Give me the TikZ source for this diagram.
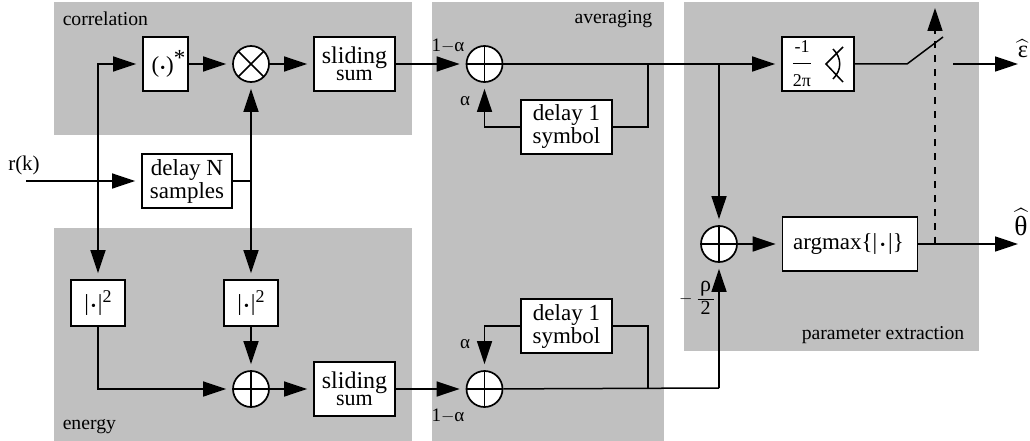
\documentclass[tikz,border=0pt]{standalone}
\usepackage{fontspec}
\setmainfont{Liberation Serif}
\usetikzlibrary{arrows.meta}
\definecolor{panelgray}{RGB}{192,192,192}
\newcommand{\dotsym}{{\fontsize{14}{14}\selectfont\textbullet}}
\newcommand{\absdot}{|\hspace{2pt}\dotsym\hspace{2pt}|\raisebox{8pt}{\fontsize{18}{18}\selectfont 2}}
\newcommand{\wideaccent}[2]{\scalebox{#1}{$\widehat{\mbox{\fontsize{11}{11}\selectfont #2}}$}}
\newcommand{\slidetext}{{\fontsize{24}{15}\selectfont sliding}\\{\fontsize{22}{15}\selectfont sum}}

\begin{document}
\begin{tikzpicture}[
    x=1pt, y=-1pt,
    line width=1.5pt,
    panel/.style={fill=panelgray, draw=none},
    tag/.style={font=\fontsize{19.7}{19.7}\selectfont, inner sep=0pt},
    coef/.style={font=\fontsize{19}{19}\selectfont, inner sep=0pt},
    blockbox/.style={draw, rectangle, fill=white, align=center, inner sep=0pt, line width=1.7pt, font=\fontsize{23}{23}\selectfont},
    sumbox/.style={blockbox, minimum width=81pt, minimum height=54pt, font=\fontsize{23}{15}\selectfont},
    delaybox/.style={blockbox, minimum width=91pt, minimum height=54pt},
    absbox/.style={blockbox, minimum width=54pt, minimum height=46pt},
    addcirc/.style={draw, circle, fill=white, minimum size=36pt, inner sep=0pt, line width=1.7pt,
        path picture={\draw[line width=1.5pt] (path picture bounding box.north) -- (path picture bounding box.south)
            (path picture bounding box.west) -- (path picture bounding box.east);}},
    mulcirc/.style={draw, circle, fill=white, minimum size=36pt, inner sep=0pt, line width=1.7pt,
        path picture={\draw[line width=1.5pt] (path picture bounding box.north west) -- (path picture bounding box.south east)
            (path picture bounding box.south west) -- (path picture bounding box.north east);}},
    flow/.style={-{Triangle[length=23pt, width=15pt]}, shorten >=6pt}
]
\useasboundingbox (0,0) rectangle (1030,441);

\fill[panel] (54,2) rectangle (412,135);
\fill[panel] (54,228) rectangle (412,441);
\fill[panel] (432,2) rectangle (664,441);
\fill[panel] (684,2) rectangle (979,351);

\node[tag, anchor=west] (corrlabel) at (62,19) {correlation};
\node[tag, anchor=west] (energylabel) at (62,427) {energy};
\node[tag, anchor=east] (avglabel) at (653,19) {averaging};
\node[tag, anchor=east] (paramlabel) at (965,335) {parameter extraction};
\node[inner sep=0pt, font=\fontsize{21}{21}\selectfont] (inlabel) at (24,165) {r(k)};

\node[blockbox, minimum width=45pt, minimum height=54pt] (conj) at (165.5,64) {\hspace{6pt}(\hspace{1pt}\dotsym\hspace{1pt})\raisebox{7pt}{*}};
\node[mulcirc, node distance=85.5pt, right of=conj] (mixer) {};
\node[sumbox, node distance=103.5pt, right of=mixer] (sumtop) {\slidetext};
\node[addcirc, node distance=130pt, right of=sumtop] (addtop) {};
\node[delaybox] (delaytop) at (566.5,127) {delay 1\\symbol};
\node[blockbox, minimum width=72pt, minimum height=54pt] (phase) at (818,64)
    {$\displaystyle\frac{\mbox{\fontsize{18}{18}\selectfont -1}}{\mbox{\fontsize{18}{18}\selectfont 2π}}$\hspace{32pt}};

\node[delaybox, minimum width=90pt] (delayn) at (187,181) {delay N\\samples};

\node[absbox] (absleft) at (98,303) {\absdot};
\node[absbox, node distance=153pt, right of=absleft] (absright) {\absdot};
\node[addcirc] (addlow) at (251,389) {};
\node[sumbox, node distance=103.5pt, right of=addlow] (sumlow) {\slidetext};
\node[addcirc, node distance=130pt, right of=sumlow] (addavg) {};
\node[delaybox] (delaylow) at (566.5,326) {delay 1\\symbol};

\node[addcirc] (addmax) at (719,244) {};
\node[blockbox, minimum width=135pt, minimum height=54pt, node distance=131pt, right of=addmax] (argmax)
    {argmax\{|\hspace{3pt}\dotsym\hspace{3pt}|\}\hspace{3pt}};

\node[coef] (onetop) at (448,46) {1$-$α};
\node[coef] (alphatop) at (465,101) {α};
\node[coef] (alphalow) at (465,344) {α};
\node[coef] (onelow) at (448,416) {1$-$α};
\node[coef] (rholabel) at (697,298) {$-$\hspace{4pt}$\displaystyle\frac{\mbox{\fontsize{22}{22}\selectfont ρ}}{\makebox[16pt]{\fontsize{20}{20}\selectfont 2}}$};
\node[inner sep=0pt] (epslabel) at (1023,49) {\wideaccent{2.2}{ε}};
\node[inner sep=0pt] (thetalabel) at (1021,222) {\wideaccent{2.5}{θ}};

\coordinate (rin) at (26,181);
\coordinate (tapleft) at (98,181);
\coordinate (tapright) at (251,181);
\coordinate (fbtop) at (648,64);
\coordinate (tapmax) at (719,64);
\coordinate (fblow) at (648,388);
\coordinate (cornerlow) at (719,388);
\coordinate (swin) at (907,64);
\coordinate (swarm) at (943,37);
\coordinate (swout) at (953,64);
\coordinate (outeps) at (1024,64);
\coordinate (outtheta) at (1024,244);
\coordinate (taptheta) at (935,244);
\coordinate (swctrl) at (935,2);

\draw[flow] (rin) -- (delayn);
\draw[flow] (tapleft) |- (conj);
\draw[flow] (tapleft) -- (absleft);
\draw (delayn) -- (tapright);
\draw[flow] (tapright) -- (mixer);
\draw[flow] (tapright) -- (absright);

\draw[flow] (conj) -- (mixer);
\draw[flow] (mixer) -- (sumtop);
\draw[flow] (sumtop) -- (addtop);
\draw[flow] (addtop) -- (phase);
\draw (delaytop) -| (fbtop);
\draw[flow] (delaytop) -| (addtop);
\draw[flow] (tapmax) -- (addmax);

\draw[flow] (absleft) |- (addlow);
\draw[flow] (absright) -- (addlow);
\draw[flow] (addlow) -- (sumlow);
\draw[flow] (sumlow) -- (addavg);
\draw (addavg) -- (cornerlow);
\draw (fblow) |- (delaylow);
\draw[flow] (delaylow) -| (addavg);
\draw[flow] (cornerlow) -- (addmax);

\draw[flow] (addmax) -- (argmax);
\draw[flow] (argmax) -- (outtheta);
\draw[flow, dash pattern=on 7pt off 7pt] (taptheta) -- (swctrl);

\draw (843,47) -- (826,64) -- (843,82);
\draw (833,49) .. controls (842,58) and (842,70) .. (833,79);
\draw (phase) -- (swin) -- (swarm);
\draw[flow] (swout) -- (outeps);

\end{tikzpicture}
\end{document}
